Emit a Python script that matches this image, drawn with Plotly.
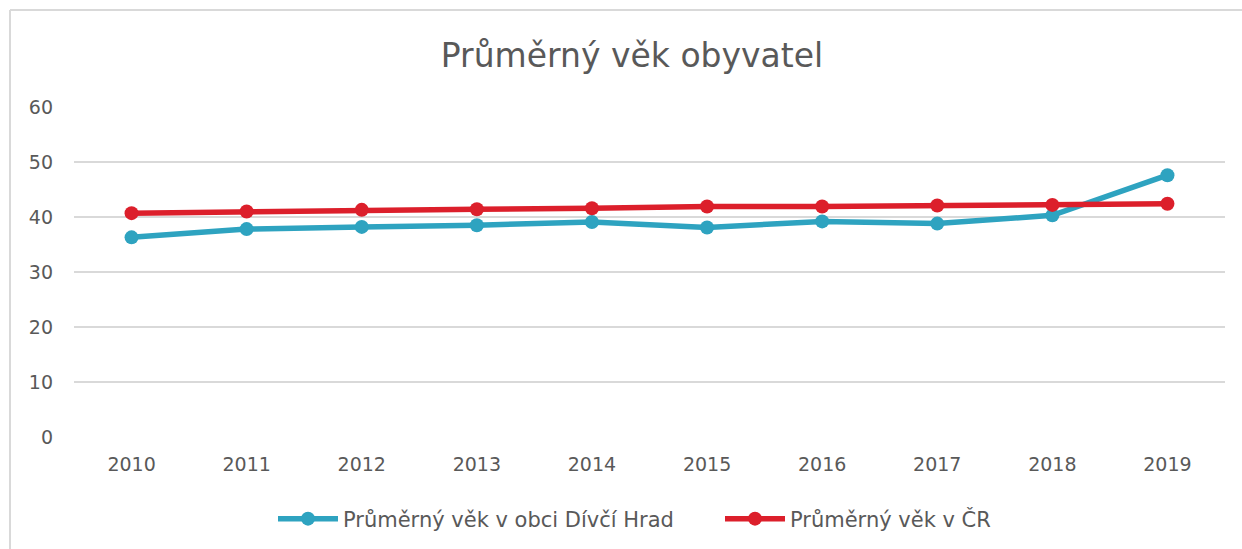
import plotly.graph_objects as go

years = ["2010", "2011", "2012", "2013", "2014", "2015", "2016", "2017", "2018", "2019"]
obec = [36.3, 37.8, 38.2, 38.5, 39.1, 38.1, 39.2, 38.8, 40.3, 47.6]
cr = [40.7, 41.0, 41.3, 41.4, 41.6, 41.9, 41.9, 42.1, 42.2, 42.4]
y_ticks = [0, 10, 20, 30, 40, 50, 60]

BLUE = "#2EA3C0"
RED = "#DC1F2B"
TXT = "#595959"
FONT = "DejaVu Sans, Verdana, sans-serif"

fig = go.Figure()
fig.add_trace(go.Scatter(x=years, y=obec, mode="lines+markers",
                         name="Průměrný věk v obci Dívčí Hrad",
                         line=dict(color=BLUE, width=5.5),
                         marker=dict(color=BLUE, size=14)))
fig.add_trace(go.Scatter(x=years, y=cr, mode="lines+markers",
                         name="Průměrný věk v ČR",
                         line=dict(color=RED, width=5.5),
                         marker=dict(color=RED, size=14)))

W, H = 1242, 549
L, R, T, B = 74, 1225, 107, 437
pw, ph = R - L, B - T

def px(x):
    return (x - L) / pw

def py(y):
    return (B - y) / ph

fig.update_layout(
    width=W, height=H,
    margin=dict(l=L, r=W - R, t=T, b=H - B, autoexpand=False),
    paper_bgcolor="white", plot_bgcolor="white",
    title=dict(text="Průměrný věk obyvatel", xref="container", x=632 / W, xanchor="center",
               yref="container", y=1 - 55 / H, yanchor="middle",
               font=dict(family=FONT, size=33, color=TXT)),
    xaxis=dict(type="category", range=[-0.5, 9.5], showgrid=False, zeroline=False,
               showline=False, ticks="", tickangle=0, automargin=False,
               ticklabelstandoff=14,
               tickfont=dict(family=FONT, size=19, color=TXT)),
    yaxis=dict(range=[0, 60], tickvals=y_ticks, showgrid=True, gridcolor="#D9D9D9",
               gridwidth=2, zeroline=False, showline=False, ticks="", automargin=False,
               ticklabelstandoff=20,
               tickfont=dict(family=FONT, size=19, color=TXT)),
    legend=dict(orientation="h", xref="container", x=273 / W, xanchor="left",
                yref="container", y=1 - 519 / H, yanchor="middle",
                font=dict(family=FONT, size=21, color=TXT),
                itemwidth=60, entrywidth=372, entrywidthmode="pixels", tracegroupgap=0),
    showlegend=True,
    shapes=[
        dict(type="line", xref="paper", yref="paper", x0=px(10), x1=px(1242), y0=py(10), y1=py(10),
             line=dict(color="#D9D9D9", width=2)),
        dict(type="line", xref="paper", yref="paper", x0=px(10), x1=px(10), y0=py(10), y1=py(549),
             line=dict(color="#D9D9D9", width=2)),
    ],
)

fig.write_html("out.html", config={"displayModeBar": False},
               post_script="document.body.style.margin='0';")
